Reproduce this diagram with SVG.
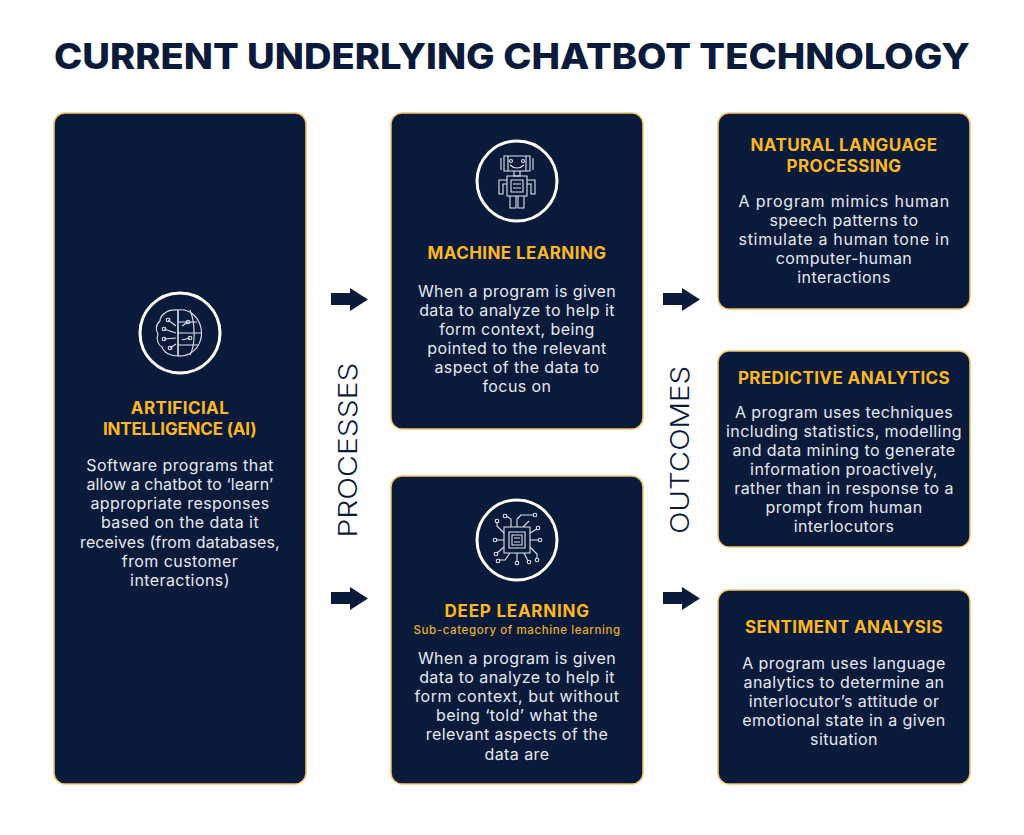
<svg xmlns="http://www.w3.org/2000/svg" width="1024" height="835" viewBox="0 0 1024 835">
<style>
text{font-family:Inter,"Open Sans","Liberation Sans",sans-serif;text-anchor:middle}
.box{fill:#0a1a3a;stroke:#f2c66a;stroke-width:1.5}
.h{fill:#fdb81e;font-size:17px;font-weight:700;letter-spacing:.4px}
.b{fill:#e6e9f1;font-size:16px;font-weight:400;letter-spacing:.42px}
.s{fill:#e8ae24;font-size:11.500px;font-weight:500;letter-spacing:.3px}
.ring{fill:none;stroke:#fff;stroke-width:3}
.ic{fill:none;stroke:#dfe3ea;stroke-width:1.100}
.side{fill:#0a1a3a;font-size:25px;font-weight:300}
.arr{fill:#0a1a3a}
</style>
<rect width="1024" height="835" fill="#fff"/>
<text id="title" x="512" y="69" font-size="35" font-weight="800" fill="#0a1a3a" textLength="916" lengthAdjust="spacingAndGlyphs">CURRENT UNDERLYING CHATBOT TECHNOLOGY</text>
<g id="connectors">
<path id="a1" class="arr" d="M331 293H350V288L368 299.500L350 311V305H331Z"/>
<path id="a2" class="arr" d="M331 592H350V587L368 598.500L350 610V604H331Z"/>
<path id="a3" class="arr" d="M663 293H682V288L700 299.500L682 311V305H663Z"/>
<path id="a4" class="arr" d="M663 592H682V587L700 598.500L682 610V604H663Z"/>
</g>
<text id="processes" class="side" transform="translate(357 450) rotate(-90)" textLength="175" lengthAdjust="spacingAndGlyphs">PROCESSES</text>
<text id="outcomes" class="side" transform="translate(689 450) rotate(-90)" textLength="168" lengthAdjust="spacingAndGlyphs">OUTCOMES</text>
<g id="node-ai">
<rect class="box" x="54" y="113" width="252" height="671" rx="11"/>
<circle class="ring" cx="180" cy="333" r="40"/>
<g class="ic">
<path d="M178 310C166 309 160 316 160 321C155 325 156 331 158 334C156 339 158 345 162 347C164 353 171 356 178 356Z"/>
<path d="M178 310V356M178 310C190 308 199 318 201 328C203 338 199 349 189 354C186 356 182 356 178 356"/>
<path d="M178 322H197M178 333H201M178 345H198M190 310C195 322 196 344 190 355"/>
<path d="M168 320L176 326M164 329L176 333M164 339L176 338M170 348L176 344M182 326L188 322M182 340L190 338"/>
<circle cx="168" cy="320" r="1.800"/><circle cx="164" cy="329" r="1.800"/><circle cx="164" cy="339" r="1.800"/><circle cx="170" cy="348" r="1.800"/><circle cx="188" cy="322" r="1.800"/><circle cx="190" cy="338" r="1.800"/>
</g>
<text class="h" x="180" y="414">ARTIFICIAL</text>
<text class="h" x="180" y="435" textLength="154">INTELLIGENCE (AI)</text>
<text class="b" x="180" y="471">Software programs that</text>
<text class="b" x="180" y="490" textLength="187">allow a chatbot to ‘learn’</text>
<text class="b" x="180" y="509">appropriate responses</text>
<text class="b" x="180" y="528">based on the data it</text>
<text class="b" x="180" y="548" textLength="200">receives (from databases,</text>
<text class="b" x="180" y="567">from customer</text>
<text class="b" x="180" y="586">interactions)</text>
</g>
<g id="node-ml">
<rect class="box" x="391" y="113" width="252" height="316" rx="11"/>
<circle class="ring" cx="517" cy="181" r="40"/>
<g class="ic">
<path d="M504 156H530V171H504ZM501 158V170M533 158V170M508 156V171H526V156"/>
<circle cx="511" cy="161" r="1.500"/><circle cx="523" cy="161" r="1.500"/>
<path d="M510 165C514 169 520 169 524 165M514 171V176H520V171"/>
<path d="M507 176H527V196H507ZM511 180H523V192H511ZM507 180H499V194H503V184H507M527 180H535V194H531V184H527M510 196V208H516V196M518 196V208H524V196"/>
<path d="M513 184H521M513 188H521"/>
</g>
<text class="h" x="517" y="259">MACHINE LEARNING</text>
<text class="b" x="517" y="297">When a program is given</text>
<text class="b" x="517" y="316">data to analyze to help it</text>
<text class="b" x="517" y="335">form context, being</text>
<text class="b" x="517" y="354">pointed to the relevant</text>
<text class="b" x="517" y="373">aspect of the data to</text>
<text class="b" x="517" y="392">focus on</text>
</g>
<g id="node-dl">
<rect class="box" x="391" y="476" width="252" height="308" rx="11"/>
<circle class="ring" cx="517" cy="540" r="40"/>
<g class="ic">
<path d="M504 527H530V553H504ZM509 532H525V548H509ZM512 535H522V545H512ZM514 538H520M514 542H520"/>
<path d="M517 527V519M517 519L521 515H534M511 527V519L506 516M523 527L529 521M504 533L497 526V522M504 540H496M504 547L497 553M517 553V562M510 553L505 560H499M524 553L528 561M530 533L537 529M530 540H539M530 547L537 554V559"/>
<circle cx="535" cy="515" r="1.800"/><circle cx="505" cy="516" r="1.800"/><circle cx="497" cy="521" r="1.800"/><circle cx="495" cy="540" r="1.800"/><circle cx="496" cy="554" r="1.800"/><circle cx="517" cy="563" r="1.800"/><circle cx="498" cy="561" r="1.800"/><circle cx="529" cy="562" r="1.800"/><circle cx="538" cy="528" r="1.800"/><circle cx="540" cy="540" r="1.800"/><circle cx="537" cy="560" r="1.800"/>
</g>
<text class="h" x="517" y="617" textLength="145">DEEP LEARNING</text>
<text class="s" x="517" y="634" textLength="207">Sub-category of machine learning</text>
<text class="b" x="517" y="664">When a program is given</text>
<text class="b" x="517" y="683">data to analyze to help it</text>
<text class="b" x="517" y="702" textLength="205">form context, but without</text>
<text class="b" x="517" y="721">being ‘told’ what the</text>
<text class="b" x="517" y="740">relevant aspects of the</text>
<text class="b" x="517" y="760">data are</text>
</g>
<g id="node-nlp">
<rect class="box" x="718" y="113" width="252" height="196" rx="11"/>
<text class="h" x="844" y="151">NATURAL LANGUAGE</text>
<text class="h" x="844" y="172">PROCESSING</text>
<text class="b" x="844" y="207" textLength="211">A program mimics human</text>
<text class="b" x="844" y="226">speech patterns to</text>
<text class="b" x="844" y="245" textLength="211">stimulate a human tone in</text>
<text class="b" x="844" y="264">computer-human</text>
<text class="b" x="844" y="283">interactions</text>
</g>
<g id="node-pa">
<rect class="box" x="718" y="351" width="252" height="196" rx="11"/>
<text class="h" x="844" y="384">PREDICTIVE ANALYTICS</text>
<text class="b" x="844" y="418">A program uses techniques</text>
<text class="b" x="844" y="437">including statistics, modelling</text>
<text class="b" x="844" y="456">and data mining to generate</text>
<text class="b" x="844" y="475">information proactively,</text>
<text class="b" x="844" y="494">rather than in response to a</text>
<text class="b" x="844" y="513">prompt from human</text>
<text class="b" x="844" y="532">interlocutors</text>
</g>
<g id="node-sa">
<rect class="box" x="718" y="590" width="252" height="194" rx="11"/>
<text class="h" x="844" y="633">SENTIMENT ANALYSIS</text>
<text class="b" x="844" y="669">A program uses language</text>
<text class="b" x="844" y="688">analytics to determine an</text>
<text class="b" x="844" y="707">interlocutor’s attitude or</text>
<text class="b" x="844" y="726">emotional state in a given</text>
<text class="b" x="844" y="745">situation</text>
</g>
</svg>
